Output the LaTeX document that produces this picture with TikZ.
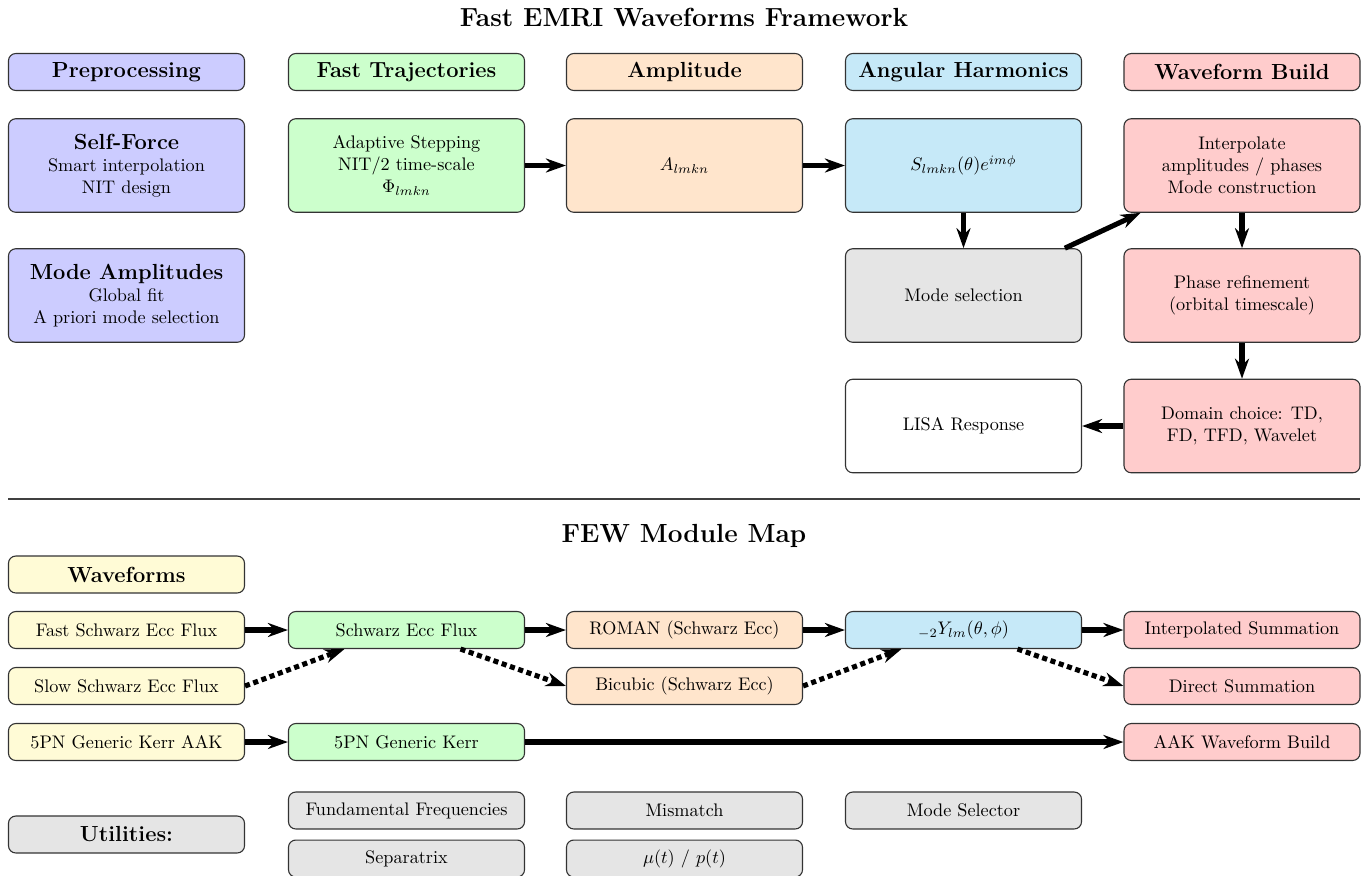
\documentclass[tikz,border=0pt]{standalone}
\usetikzlibrary{arrows.meta,calc}
\definecolor{cBlue}{RGB}{204,204,255}
\definecolor{cGreen}{RGB}{204,255,204}
\definecolor{cOrange}{RGB}{255,229,204}
\definecolor{cCyan}{RGB}{198,233,248}
\definecolor{cRed}{RGB}{255,204,204}
\definecolor{cGray}{RGB}{229,229,229}
\definecolor{cYellow}{RGB}{255,251,214}
\begin{document}
\begin{tikzpicture}[x=0.5495pt,y=-0.5495pt,
  box/.style={draw=black!80, line width=0.6pt, rounded corners=4pt, minimum width=129.7pt, align=center, inner sep=2pt},
  hdr/.style={box, minimum height=20.3pt, font=\large\bfseries},
  big/.style={box, minimum height=51.4pt},
  sm/.style={box, minimum height=20.3pt},
  ttl/.style={font=\Large\bfseries},
  arr/.style={-{Stealth[length=11pt,width=7.7pt]}, line width=2.8pt},
  dotarr/.style={arr, dotted}]
\useasboundingbox (0,0) rectangle (1367,875);

% ---------- top: framework ----------
\node[ttl] (t1) at (684,17) {Fast EMRI Waveforms Framework};

\node[hdr, fill=cBlue]   (pre) at (126.5,72) {Preprocessing};
\node[hdr, fill=cGreen]  (ft)  at (406.5,72) {Fast Trajectories};
\node[hdr, fill=cOrange] (amp) at (684.5,72) {Amplitude};
\node[hdr, fill=cCyan]   (ang) at (963.5,72) {Angular Harmonics};
\node[hdr, fill=cRed]    (wb)  at (1242,72)  {Waveform Build};

\node[big, fill=cBlue]   (sf)   at (126.5,165.5) {{\large\bfseries Self-Force}\\Smart interpolation\\NIT design};
\node[big, fill=cGreen]  (ftb)  at (406.5,165.5) {Adaptive Stepping\\NIT/2 time-scale\\$\Phi_{lmkn}$};
\node[big, fill=cOrange] (ampb) at (684.5,165.5) {$A_{lmkn}$};
\node[big, fill=cCyan]   (angb) at (963.5,165.5) {$S_{lmkn}(\theta)e^{im\phi}$};
\node[big, fill=cRed]    (interp) at (1242,165.5) {Interpolate\\amplitudes / phases\\Mode construction};

\node[big, fill=cBlue]   (ma)      at (126.5,295.5) {{\large\bfseries Mode Amplitudes}\\Global fit\\A priori mode selection};
\node[big, fill=cGray]   (modesel) at (963.5,295.5) {Mode selection};
\node[big, fill=cRed]    (phase)   at (1242,295.5)  {Phase refinement\\(orbital timescale)};

\node[big, fill=white]   (lisa)    at (963.5,426) {LISA Response};
\node[big, fill=cRed]    (domain)  at (1242,426)  {Domain choice: TD,\\FD, TFD, Wavelet};

\draw[arr] (ftb) -- (ampb);
\draw[arr] (ampb) -- (angb);
\draw[arr] (angb) -- (modesel);
\draw[arr] (modesel) -- (interp);
\draw[arr] (interp) -- (phase);
\draw[arr] (phase) -- (domain);
\draw[arr] (domain) -- (lisa);

% separator
\coordinate (sepL) at (8,499);
\coordinate (sepR) at (1360,499);
\draw[black!75, line width=0.6pt] (sepL) -- (sepR);

% ---------- bottom: module map ----------
\node[ttl] (t2) at (684,536) {FEW Module Map};

\node[hdr, fill=cYellow] (wf) at (126.5,574.5) {Waveforms};

\node[sm, fill=cYellow] (fse)   at (126.5,630) {Fast Schwarz Ecc Flux};
\node[sm, fill=cYellow] (sse)   at (126.5,686) {Slow Schwarz Ecc Flux};
\node[sm, fill=cYellow] (aak5)  at (126.5,742) {5PN Generic Kerr AAK};

\node[sm, fill=cGreen]  (sef)   at (406.5,630) {Schwarz Ecc Flux};
\node[sm, fill=cGreen]  (gk5)   at (406.5,742) {5PN Generic Kerr};

\node[sm, fill=cOrange] (roman) at (684.5,630) {ROMAN (Schwarz Ecc)};
\node[sm, fill=cOrange] (bic)   at (684.5,686) {Bicubic (Schwarz Ecc)};

\node[sm, fill=cCyan]   (ylm)   at (963.5,630) {$_{-2}Y_{lm}(\theta,\phi)$};

\node[sm, fill=cRed]    (isum)  at (1242,630) {Interpolated Summation};
\node[sm, fill=cRed]    (dsum)  at (1242,686) {Direct Summation};
\node[sm, fill=cRed]    (aakwb) at (1242,742) {AAK Waveform Build};

\draw[arr] (fse) -- (sef);
\draw[arr] (sef) -- (roman);
\draw[arr] (roman) -- (ylm);
\draw[arr] (ylm) -- (isum);
\draw[arr] (aak5) -- (gk5);
\draw[arr] (gk5) -- (aakwb);

\draw[dotarr] (sse.east) -- ($(sef.south)+(-62,0)$);
\draw[dotarr] ($(sef.south)+(54,0)$) -- (bic.west);
\draw[dotarr] (bic.east) -- ($(ylm.south)+(-62,0)$);
\draw[dotarr] ($(ylm.south)+(54,0)$) -- (dsum.west);

% utilities
\node[hdr, fill=cGray] (util) at (126.5,834.5) {Utilities:};
\node[sm, fill=cGray] (ff)   at (406.5,810.5) {Fundamental Frequencies};
\node[sm, fill=cGray] (mism) at (684.5,810.5) {Mismatch};
\node[sm, fill=cGray] (msel) at (963.5,810.5) {Mode Selector};
\node[sm, fill=cGray] (sep)  at (406.5,858.5) {Separatrix};
\node[sm, fill=cGray] (mu)   at (684.5,858.5) {$\mu(t)$ / $p(t)$};
\end{tikzpicture}
\end{document}
